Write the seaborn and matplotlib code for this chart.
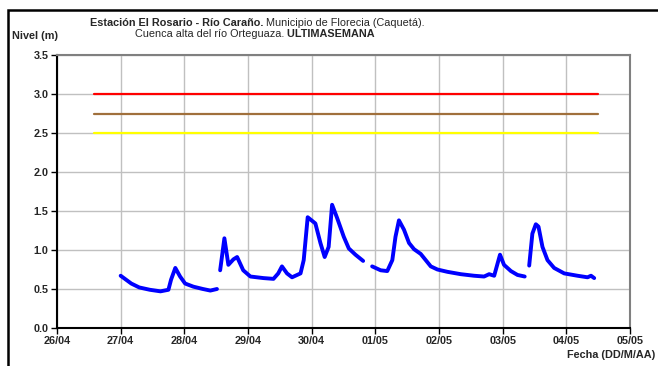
# Nivel del río - Estación El Rosario, última semana
import pandas as pd
import matplotlib.pyplot as plt
from matplotlib.patches import Rectangle
import seaborn as sns

# horas desde 26/04 00:00 y nivel (m), por tramo (hay huecos entre tramos)
horas_1 = [24, 28, 31, 35, 39, 42, 43, 44.6, 46.4, 48.3, 51.4, 55, 57.8, 60.3]
nivel_1 = [0.67, 0.57, 0.52, 0.49, 0.47, 0.49, 0.62, 0.77, 0.66, 0.57, 0.53, 0.50, 0.48, 0.50]

horas_2 = [61.5, 63.1, 64.6, 66.5, 67.9, 70.2, 72.9, 77.8, 81.6, 83.4, 84.8, 86.7, 88.6,
           91.8, 93.0, 94.5, 97.4, 99.3, 100.9, 102.4, 103.7, 105.6, 108.1, 110.0, 112.5, 115.4]
nivel_2 = [0.74, 1.15, 0.81, 0.88, 0.91, 0.74, 0.66, 0.64, 0.63, 0.70, 0.79, 0.70, 0.65,
           0.70, 0.87, 1.42, 1.34, 1.09, 0.91, 1.04, 1.58, 1.41, 1.17, 1.02, 0.94, 0.86]

horas_3 = [118.8, 122.0, 124.5, 126.4, 127.6, 128.9, 130.8, 132.7, 134.6, 137.1, 139.0, 140.9,
           143.4, 147.2, 152.2, 157.2, 161.0, 162.9, 164.8, 167.0, 168.5, 171.1, 173.6, 176.3]
nivel_3 = [0.79, 0.74, 0.73, 0.87, 1.17, 1.38, 1.26, 1.09, 1.01, 0.95, 0.87, 0.79,
           0.75, 0.72, 0.69, 0.67, 0.66, 0.69, 0.67, 0.94, 0.81, 0.73, 0.68, 0.66]

horas_4 = [178.0, 179.2, 180.5, 181.5, 183.0, 184.9, 187.4, 191.2, 196.2, 200.0, 201.3, 202.5]
nivel_4 = [0.80, 1.21, 1.33, 1.30, 1.04, 0.87, 0.77, 0.70, 0.67, 0.65, 0.67, 0.64]

# umbrales de alerta
umbrales = [3.0, 2.75, 2.5]
colores_umbral = ["#FF0000", "#A0703C", "#FFFF00"]
umbral_ini, umbral_fin = 14, 204  # horas

dias = ["26/04", "27/04", "28/04", "29/04", "30/04", "01/05", "02/05", "03/05", "04/05", "05/05"]

t0 = pd.Timestamp("2011-04-26")
tramos = [(horas_1, nivel_1), (horas_2, nivel_2), (horas_3, nivel_3), (horas_4, nivel_4)]
df = pd.concat([
    pd.DataFrame({"fecha": t0 + pd.to_timedelta(h, unit="h"), "nivel": n, "tramo": i})
    for i, (h, n) in enumerate(tramos)
])

sns.set_style("white")
plt.rcParams["font.family"] = ["Liberation Sans", "DejaVu Sans"]

fig = plt.figure(figsize=(6.58, 3.66), dpi=100)
ax = fig.add_axes([57 / 658, 38 / 366, 573 / 658, 273 / 366])

for u, c in zip(umbrales, colores_umbral):
    ax.plot([t0 + pd.Timedelta(hours=umbral_ini), t0 + pd.Timedelta(hours=umbral_fin)], [u, u],
            color=c, lw=1.6, zorder=3)

sns.lineplot(data=df, x="fecha", y="nivel", units="tramo", estimator=None,
             color="#0000FF", lw=2.8, ax=ax, zorder=4,
             solid_capstyle="round", solid_joinstyle="round")

ax.set_xlim(t0, t0 + pd.Timedelta(days=9))
ax.set_ylim(0, 3.5)
ax.set_xticks([t0 + pd.Timedelta(days=i) for i in range(len(dias))])
ax.set_xticklabels(dias)
ax.set_yticks([i * 0.5 for i in range(8)])
ax.set_yticklabels([f"{i * 0.5:.1f}" for i in range(8)])
ax.tick_params(axis="both", labelsize=7.8, length=4, width=1, color="black", pad=2,
               left=True, bottom=True, direction="out")
for lab in ax.get_xticklabels() + ax.get_yticklabels():
    lab.set_fontweight("bold")
ax.grid(True, color="#C0C0C0", lw=1)
ax.set_xlabel("")
ax.set_ylabel("")
for s in ["left", "bottom"]:
    ax.spines[s].set_color("black")
    ax.spines[s].set_linewidth(1.5)
for s in ["top", "right"]:
    ax.spines[s].set_color("#808080")
    ax.spines[s].set_linewidth(1.5)

# textos
fig.text(12 / 658, 1 - 36 / 366, "Nivel (m)", fontsize=7.8, fontweight="bold", va="center")
fig.text(655 / 658, 1 - 355 / 366, "Fecha (DD/M/AA)", fontsize=7.8, fontweight="bold",
         va="center", ha="right")

t1 = fig.text(90 / 658, 1 - 23 / 366, "Estación El Rosario - Río Caraño.", fontsize=7.8,
              fontweight="bold", va="center")
ax.annotate(" Municipio de Florecia (Caquetá).", xy=(1, 0.5), xycoords=t1, fontsize=7.8,
            va="center", ha="left", annotation_clip=False)
t2 = fig.text(135 / 658, 1 - 34 / 366, "Cuenca alta del río Orteguaza.", fontsize=7.8,
              va="center")
ax.annotate(" ULTIMASEMANA", xy=(1, 0.5), xycoords=t2, fontsize=7.8, fontweight="bold",
            va="center", ha="left", annotation_clip=False)

# marco de la figura
fig.patches.append(Rectangle((8 / 658, -0.1), 1.2, (356 / 366) + 0.1, transform=fig.transFigure,
                             fill=False, edgecolor="black", lw=1.8))

fig.savefig("out.png", dpi=100)
